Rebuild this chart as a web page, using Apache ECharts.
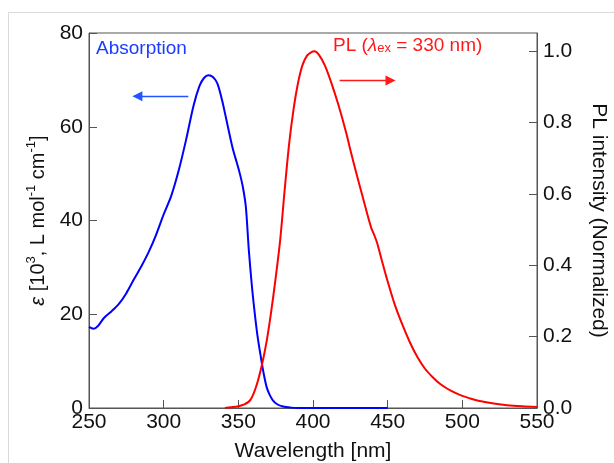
<!DOCTYPE html>
<html><head><meta charset="utf-8">
<script src="https://cdn.jsdelivr.net/npm/echarts@6/dist/echarts.min.js"></script>
<style>html,body{margin:0;padding:0;background:#fff}#c{width:614px;height:463px}</style>
</head><body><div id="c"></div>
<script>
// ---- data ----
const absWavelength = [250,253,256,260,265,270,275,280,285,290,295,300,305,310,315,320,324,327,330,333,336,339,342,346,349,351,353,355,357,359,361,363,365,367,369,371,373,376,380,385,390,450];
const absEpsilon    = [17.3,16.9,17.5,19.2,20.6,22.2,24.5,27.4,30.2,33.3,37.0,41.3,45.2,50.6,57.2,64.5,68.7,70.4,71.0,70.6,69.2,65.8,61.5,55.7,52.3,50.0,47.2,43.0,33.8,26.3,20.2,15.0,11.0,7.3,4.4,2.8,1.7,0.8,0.3,0.08,0,0];
const plWavelength  = [341,345,350,354,358,362,366,369,372,375,378,381,384,387,390,393,396,399,401,404,408,412,417,422,426,430,435,439,441,443,446,450,455,460,465,470,475,480,485,490,495,500,505,510,520,530,540,550];
const plIntensity   = [0,0.002,0.005,0.010,0.022,0.061,0.125,0.188,0.27,0.365,0.47,0.61,0.74,0.838,0.912,0.962,0.988,0.998,1.0,0.99,0.96,0.915,0.85,0.775,0.707,0.643,0.565,0.505,0.485,0.462,0.415,0.355,0.287,0.232,0.183,0.142,0.11,0.087,0.068,0.054,0.043,0.034,0.027,0.021,0.013,0.008,0.005,0.003];
const xTicks = {min: 250, max: 550, step: 50};
const leftTicks = {min: 0, max: 80, step: 20};
const rightTicks = {min: 0, max: 1.0513, step: 0.2};
// annotation arrows (data coordinates)
const absArrow = {from: [316.5, 66.5], to: [282.4, 66.5]};
const plArrow = {from: [417.8, 0.918], to: [451.9, 0.918]};

const FONT = 'Liberation Sans, Arial, Helvetica, sans-serif';
const AX = '#555';
const zip = (a, b) => a.map((v, i) => [v, b[i]]);

const chart = echarts.init(document.getElementById('c'), null, {renderer: 'canvas'});
chart.setOption({
  animation: false,
  backgroundColor: '#fff',
  grid: {left: 89, right: 77, top: 33, bottom: 55, containLabel: false, outerBoundsMode: 'none',
         show: true, borderColor: AX, borderWidth: 1, backgroundColor: 'transparent'},
  graphic: [{
    type: 'rect', z: -10, silent: true,
    shape: {x: 8.5, y: 12.5, width: 640, height: 480},
    style: {fill: 'none', stroke: '#d9d9d9', lineWidth: 1}
  }],
  title: [{
    text: 'Absorption', left: 96, top: 39, padding: 0,
    textStyle: {fontFamily: FONT, fontSize: 19, fontWeight: 'normal', color: '#1a3cff'}
  }, {
    text: '{a|PL (}{l|λ}{s|ex}{a| = 330 nm)}', left: 333, top: 36, padding: 0,
    textStyle: {
      fontFamily: FONT, fontSize: 19, fontWeight: 'normal', color: '#ff1a1a',
      rich: {
        a: {fontFamily: FONT, fontSize: 19, lineHeight: 19, verticalAlign: 'top', color: '#ff1a1a'},
        l: {fontFamily: FONT, fontSize: 19, lineHeight: 19, verticalAlign: 'top', fontStyle: 'italic', color: '#ff1a1a'},
        s: {fontFamily: FONT, fontSize: 13, lineHeight: 13, verticalAlign: 'bottom', padding: [9, 0, 0, 0], color: '#ff1a1a'}
      }
    }
  }],
  xAxis: {
    type: 'value', min: xTicks.min, max: xTicks.max, interval: xTicks.step,
    axisLine: {show: true, lineStyle: {color: AX, width: 1}},
    axisTick: {show: true, inside: true, length: 8, lineStyle: {color: AX}},
    axisLabel: {margin: 4, fontSize: 21, fontFamily: FONT, color: '#111'},
    splitLine: {show: false},
    name: 'Wavelength [nm]', nameLocation: 'middle', nameGap: 33,
    nameTextStyle: {fontSize: 21, fontFamily: FONT, color: '#111'}
  },
  yAxis: [{
    type: 'value', position: 'left', min: leftTicks.min, max: leftTicks.max, interval: leftTicks.step,
    axisLine: {show: true, lineStyle: {color: AX, width: 1}},
    axisTick: {show: true, inside: true, length: 8, lineStyle: {color: AX}},
    axisLabel: {margin: 6, fontSize: 21, fontFamily: FONT, color: '#111'},
    splitLine: {show: false},
    name: '{i|ε}{m| [10}{p|3}{m|, L mol}{p|-1}{m| cm}{p|-1}{m|]}',
    nameLocation: 'middle', nameRotate: 90, nameGap: 41,
    nameTextStyle: {
      fontSize: 20, fontFamily: FONT, color: '#111',
      rich: {
        i: {fontSize: 20, fontFamily: FONT, fontStyle: 'italic', lineHeight: 20, padding: [4, 0, 0, 0], verticalAlign: 'top', color: '#111'},
        m: {fontSize: 20, fontFamily: FONT, lineHeight: 20, padding: [4, 0, 0, 0], verticalAlign: 'top', color: '#111'},
        p: {fontSize: 13, fontFamily: FONT, lineHeight: 13, verticalAlign: 'top', color: '#111'}
      }
    }
  }, {
    type: 'value', position: 'right', min: rightTicks.min, max: rightTicks.max, interval: rightTicks.step,
    axisLine: {show: true, lineStyle: {color: AX, width: 1}},
    axisTick: {show: true, inside: true, length: 8, lineStyle: {color: AX}},
    axisLabel: {
      margin: 6, fontSize: 21, fontFamily: FONT, color: '#111', showMaxLabel: false,
      formatter: v => (Math.abs(v / rightTicks.step - Math.round(v / rightTicks.step)) < 1e-6 ? v.toFixed(1) : '')
    },
    splitLine: {show: false},
    name: 'PL intensity (Normalized)', nameLocation: 'middle', nameRotate: -90, nameGap: 51,
    nameTextStyle: {fontSize: 21, fontFamily: FONT, color: '#111'}
  }],
  series: [{
    name: 'Absorption', type: 'line', xAxisIndex: 0, yAxisIndex: 0,
    data: zip(absWavelength, absEpsilon),
    showSymbol: false, smooth: 0.3, silent: true,
    lineStyle: {color: '#0000ff', width: 2},
    itemStyle: {color: '#0000ff'},
    markLine: {
      silent: true, animation: false, symbol: ['none', 'triangle'], symbolSize: [10, 10],
      label: {show: false},
      lineStyle: {color: '#2255ff', width: 1.4, type: 'solid'},
      emphasis: {disabled: true},
      data: [[{coord: absArrow.from}, {coord: absArrow.to}]]
    }
  }, {
    name: 'PL', type: 'line', xAxisIndex: 0, yAxisIndex: 1,
    data: zip(plWavelength, plIntensity),
    showSymbol: false, smooth: 0.3, silent: true,
    lineStyle: {color: '#ff0000', width: 2},
    itemStyle: {color: '#ff0000'},
    markLine: {
      silent: true, animation: false, symbol: ['none', 'triangle'], symbolSize: [10, 10],
      label: {show: false},
      lineStyle: {color: '#ff1a1a', width: 1.4, type: 'solid'},
      emphasis: {disabled: true},
      data: [[{coord: plArrow.from}, {coord: plArrow.to}]]
    }
  }]
});
</script>
</body></html>
